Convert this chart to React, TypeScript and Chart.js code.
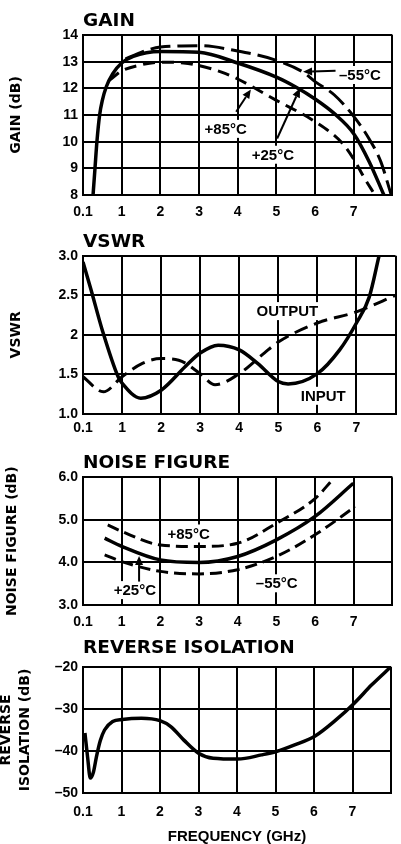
import React, { useEffect, useRef } from "react";
import { Chart, registerables } from "chart.js";
Chart.register(...registerables);

// ---------- shared axis data ----------
const FREQ_TICKS = [0, 1, 2, 3, 4, 5, 6, 7, 8];
const FREQ_LABELS = ["0.1", "1", "2", "3", "4", "5", "6", "7", ""];

// ---------- GAIN ----------
const GAIN_TICKS = [8, 9, 10, 11, 12, 13, 14];
const GAIN_TICK_LABELS = ["8", "9", "10", "11", "12", "13", "14"];
const gain25X = [0.26, 0.31, 0.36, 0.43, 0.5, 0.6, 0.77, 1.0, 1.3, 2.0, 3.0, 4.0, 5.0, 5.5, 6.0, 6.5, 7.0, 7.4, 7.78];
const gain25Y = [8.0, 9.0, 10.0, 11.0, 11.55, 12.05, 12.55, 12.95, 13.2, 13.38, 13.35, 12.95, 12.42, 12.05, 11.6, 11.05, 10.3, 9.25, 8.0];
const gainM55X = [1.1, 1.5, 2.0, 3.0, 4.0, 5.0, 5.7, 6.0, 6.5, 7.0, 7.4, 7.7, 7.97];
const gainM55Y = [13.1, 13.35, 13.55, 13.6, 13.4, 13.05, 12.6, 12.25, 11.75, 10.95, 10.1, 9.25, 8.0];
const gain85X = [0.68, 1.0, 1.5, 2.0, 2.6, 3.0, 3.6, 4.0, 5.0, 6.0, 6.7, 7.04, 7.25, 7.55];
const gain85Y = [12.3, 12.65, 12.88, 12.98, 12.95, 12.85, 12.6, 12.35, 11.55, 10.75, 9.95, 9.25, 8.7, 8.0];
const gainLabels = [
  { text: "–55°C", x: 7.16, y: 12.5 },
  { text: "+85°C", x: 3.69, y: 10.48 },
  { text: "+25°C", x: 4.91, y: 9.51 },
];
const gainArrows = [
  { x1: 6.53, y1: 12.66, x2: 5.69, y2: 12.62 },
  { x1: 3.96, y1: 11.12, x2: 4.34, y2: 11.96 },
  { x1: 5.02, y1: 10.12, x2: 5.61, y2: 12.0 },
];

// ---------- VSWR ----------
const VSWR_TICKS = [1, 1.5, 2, 2.5, 3];
const VSWR_TICK_LABELS = ["1.0", "1.5", "2", "2.5", "3.0"];
const vswrInX = [0, 0.2, 0.5, 0.9, 1.0, 1.48, 2.0, 2.62, 3.0, 3.46, 4.0, 4.47, 5.0, 5.25, 6.0, 6.57, 7.0, 7.33, 7.58];
const vswrInY = [2.92, 2.58, 2.05, 1.47, 1.39, 1.2, 1.3, 1.6, 1.77, 1.87, 1.81, 1.64, 1.41, 1.38, 1.51, 1.81, 2.15, 2.48, 3.0];
const vswrOutX = [0, 0.52, 1.0, 1.52, 2.0, 2.45, 3.0, 3.38, 4.0, 4.64, 5.0, 6.0, 7.0, 8.0];
const vswrOutY = [1.47, 1.28, 1.47, 1.64, 1.7, 1.68, 1.51, 1.37, 1.51, 1.77, 1.91, 2.15, 2.29, 2.5];
const vswrLabels = [
  { text: "OUTPUT", x: 5.23, y: 2.3 },
  { text: "INPUT", x: 6.15, y: 1.23 },
];

// ---------- NOISE FIGURE ----------
const NF_TICKS = [3, 4, 5, 6];
const NF_TICK_LABELS = ["3.0", "4.0", "5.0", "6.0"];
const nf85X = [0.64, 1.0, 2.0, 3.0, 4.0, 5.0, 6.0, 6.45];
const nf85Y = [4.88, 4.73, 4.41, 4.375, 4.45, 4.92, 5.5, 5.94];
const nf25X = [0.56, 1.0, 2.0, 3.0, 4.0, 5.0, 6.0, 6.99];
const nf25Y = [4.57, 4.38, 4.06, 4.0, 4.14, 4.53, 5.08, 5.86];
const nfM55X = [0.56, 1.0, 2.0, 3.0, 4.0, 5.0, 6.0, 7.04];
const nfM55Y = [4.18, 4.02, 3.79, 3.73, 3.83, 4.14, 4.65, 5.31];
const nfLabels = [
  { text: "+85°C", x: 2.73, y: 4.68 },
  { text: "–55°C", x: 5.01, y: 3.51 },
  { text: "+25°C", x: 1.34, y: 3.35 },
];
const nfArrows = [{ x1: 1.45, y1: 3.55, x2: 1.45, y2: 4.15 }];

// ---------- REVERSE ISOLATION ----------
const RI_TICKS = [-50, -40, -30, -20];
const RI_TICK_LABELS = ["–50", "–40", "–30", "–20"];
const riX = [0.05, 0.12, 0.19, 0.27, 0.35, 0.45, 0.56, 0.77, 1.02, 1.52, 2.0, 2.28, 2.62, 3.0, 3.38, 4.02, 4.64, 5.02, 5.48, 6.03, 6.57, 7.04, 7.5, 8.0];
const riY = [-35.7, -41.5, -46.4, -45.0, -41.3, -37.5, -35.0, -33.0, -32.5, -32.2, -32.8, -34.2, -37.4, -40.5, -41.7, -41.9, -40.9, -40.1, -38.6, -36.4, -32.6, -28.7, -24.3, -20.0];

// ---------- styling ----------
const SANS = '"Liberation Sans", Arial, sans-serif';
const DEJA = '"DejaVu Sans", sans-serif';
const TICK_FONT = { family: SANS, size: 14, weight: "bold" as const };
const TITLE_FONT = { family: DEJA, size: 18.5, weight: "bold" as const, lineHeight: 1 };
const LABEL_FONT = `bold 15px ${SANS}`;

type Series = { x: number[]; y: number[]; dash?: number[] };
type Label = { text: string; x: number; y: number };
type Arrow = { x1: number; y1: number; x2: number; y2: number };
type Panel = {
  top: number;
  height: number;
  title: string;
  titlePad: { top: number; bottom: number };
  yMin: number;
  yMax: number;
  yTicks: number[];
  yTickLabels: string[];
  yTitle: string | string[];
  yTitlePad: number;
  yTitleLineHeight: number;
  xAxisHeight: number;
  xTickPad: number;
  xTitle?: string;
  series: Series[];
  labels: Label[];
  arrows: Arrow[];
};

const annotPlugin = {
  id: "annot",
  afterDatasetsDraw(chart: any, _args: any, opts: any) {
    const { ctx } = chart;
    const xs = chart.scales.x;
    const ys = chart.scales.y;
    ctx.save();
    ctx.font = LABEL_FONT;
    ctx.textAlign = "center";
    ctx.textBaseline = "middle";
    for (const l of opts.labels || []) {
      const px = xs.getPixelForValue(l.x);
      const py = ys.getPixelForValue(l.y);
      const w = ctx.measureText(l.text).width;
      ctx.fillStyle = "#fff";
      ctx.fillRect(px - w / 2 - 3, py - 9, w + 6, 18);
      ctx.fillStyle = "#000";
      ctx.fillText(l.text, px, py + 1);
    }
    ctx.strokeStyle = "#000";
    ctx.fillStyle = "#000";
    for (const a of opts.arrows || []) {
      const x1 = xs.getPixelForValue(a.x1);
      const y1 = ys.getPixelForValue(a.y1);
      const x2 = xs.getPixelForValue(a.x2);
      const y2 = ys.getPixelForValue(a.y2);
      const ang = Math.atan2(y2 - y1, x2 - x1);
      const hl = 9;
      const hw = 4;
      const bx = x2 - hl * Math.cos(ang);
      const by = y2 - hl * Math.sin(ang);
      ctx.lineWidth = 2;
      ctx.beginPath();
      ctx.moveTo(x1, y1);
      ctx.lineTo(bx, by);
      ctx.stroke();
      ctx.beginPath();
      ctx.moveTo(x2, y2);
      ctx.lineTo(bx + hw * Math.sin(ang), by - hw * Math.cos(ang));
      ctx.lineTo(bx - hw * Math.sin(ang), by + hw * Math.cos(ang));
      ctx.closePath();
      ctx.fill();
    }
    ctx.restore();
  },
};

function buildConfig(p: Panel): any {
  return {
    type: "line",
    data: {
      datasets: p.series.map((s) => ({
        data: s.x.map((xv, i) => ({ x: xv, y: s.y[i] })),
        borderColor: "#000",
        borderWidth: s.dash ? 3 : 3.5,
        borderDash: s.dash || [],
        borderCapStyle: "butt",
        pointRadius: 0,
        cubicInterpolationMode: "monotone",
        fill: false,
      })),
    },
    options: {
      responsive: false,
      animation: false,
      events: [],
      layout: { padding: { left: 0, right: 1, top: 0, bottom: 0 } },
      plugins: {
        legend: { display: false },
        tooltip: { enabled: false },
        title: {
          display: true,
          text: p.title,
          align: "start",
          fullSize: false,
          color: "#000",
          font: TITLE_FONT,
          padding: p.titlePad,
        },
        annot: { labels: p.labels, arrows: p.arrows },
      },
      scales: {
        x: {
          type: "linear",
          min: 0,
          max: 8,
          afterBuildTicks: (s: any) => {
            s.ticks = FREQ_TICKS.map((v) => ({ value: v }));
          },
          afterFit: (s: any) => {
            s.height = p.xAxisHeight;
          },
          ticks: {
            callback: (_v: any, i: number) => FREQ_LABELS[i],
            color: "#000",
            font: TICK_FONT,
            padding: p.xTickPad,
            maxRotation: 0,
            autoSkip: false,
          },
          grid: { color: "#000", lineWidth: 2, drawTicks: false },
          border: { color: "#000", width: 2 },
          title: p.xTitle
            ? {
                display: true,
                text: p.xTitle,
                color: "#000",
                font: { family: SANS, size: 15, weight: "bold", lineHeight: 1 },
                padding: 0,
              }
            : { display: false },
        },
        y: {
          type: "linear",
          min: p.yMin,
          max: p.yMax,
          afterBuildTicks: (s: any) => {
            s.ticks = p.yTicks.map((v) => ({ value: v }));
          },
          afterFit: (s: any) => {
            s.width = 83;
          },
          ticks: {
            callback: (_v: any, i: number) => p.yTickLabels[i],
            color: "#000",
            font: TICK_FONT,
            padding: 5,
            autoSkip: false,
          },
          grid: { color: "#000", lineWidth: 2, drawTicks: false },
          border: { color: "#000", width: 2 },
          title: {
            display: true,
            text: p.yTitle,
            color: "#000",
            font: { family: DEJA, size: 14, weight: "bold", lineHeight: p.yTitleLineHeight },
            padding: { top: p.yTitlePad, bottom: 0 },
          },
        },
      },
    },
    plugins: [annotPlugin],
  };
}

const PANELS: Panel[] = [
  {
    top: 0,
    height: 222,
    title: "GAIN",
    titlePad: { top: 11.75, bottom: 4.75 },
    yMin: 8,
    yMax: 14,
    yTicks: GAIN_TICKS,
    yTickLabels: GAIN_TICK_LABELS,
    yTitle: "GAIN (dB)",
    yTitlePad: 8,
    yTitleLineHeight: 1.2,
    xAxisHeight: 27,
    xTickPad: 8.6,
    series: [
      { x: gain25X, y: gain25Y },
      { x: gainM55X, y: gainM55Y, dash: [20, 7] },
      { x: gain85X, y: gain85Y, dash: [12, 7] },
    ],
    labels: gainLabels,
    arrows: gainArrows,
  },
  {
    top: 222,
    height: 210,
    title: "VSWR",
    titlePad: { top: 10.45, bottom: 4.75 },
    yMin: 1,
    yMax: 3,
    yTicks: VSWR_TICKS,
    yTickLabels: VSWR_TICK_LABELS,
    yTitle: "VSWR",
    yTitlePad: 8,
    yTitleLineHeight: 1.2,
    xAxisHeight: 18,
    xTickPad: 5.5,
    series: [
      { x: vswrInX, y: vswrInY },
      { x: vswrOutX, y: vswrOutY, dash: [14, 7] },
    ],
    labels: vswrLabels,
    arrows: [],
  },
  {
    top: 432,
    height: 200,
    title: "NOISE FIGURE",
    titlePad: { top: 21.45, bottom: 5.35 },
    yMin: 3,
    yMax: 6,
    yTicks: NF_TICKS,
    yTickLabels: NF_TICK_LABELS,
    yTitle: "NOISE FIGURE (dB)",
    yTitlePad: 3.6,
    yTitleLineHeight: 1.2,
    xAxisHeight: 27,
    xTickPad: 8.6,
    series: [
      { x: nf85X, y: nf85Y, dash: [12, 6] },
      { x: nf25X, y: nf25Y },
      { x: nfM55X, y: nfM55Y, dash: [12, 6] },
    ],
    labels: nfLabels,
    arrows: nfArrows,
  },
  {
    top: 632,
    height: 212,
    title: "REVERSE ISOLATION",
    titlePad: { top: 6.75, bottom: 9.45 },
    yMin: -50,
    yMax: -20,
    yTicks: RI_TICKS,
    yTickLabels: RI_TICK_LABELS,
    yTitle: ["REVERSE", "ISOLATION (dB)"],
    yTitlePad: -3.8,
    yTitleLineHeight: 1.4,
    xAxisHeight: 50.7,
    xTickPad: 10,
    xTitle: "FREQUENCY (GHz)",
    series: [{ x: riX, y: riY }],
    labels: [],
    arrows: [],
  },
];

function PanelChart({ panel }: { panel: Panel }) {
  const ref = useRef<HTMLCanvasElement | null>(null);
  useEffect(() => {
    if (!ref.current) return;
    const chart = new Chart(ref.current, buildConfig(panel));
    return () => chart.destroy();
  }, [panel]);
  return (
    <canvas
      ref={ref}
      width={401}
      height={panel.height}
      style={{ position: "absolute", left: 0, top: panel.top, width: 401, height: panel.height, display: "block" }}
    />
  );
}

export default function App() {
  return (
    <div style={{ position: "absolute", left: 0, top: 0, width: 401, height: 844, background: "#fff", overflow: "hidden" }}>
      {PANELS.map((p) => (
        <PanelChart key={p.title} panel={p} />
      ))}
    </div>
  );
}
